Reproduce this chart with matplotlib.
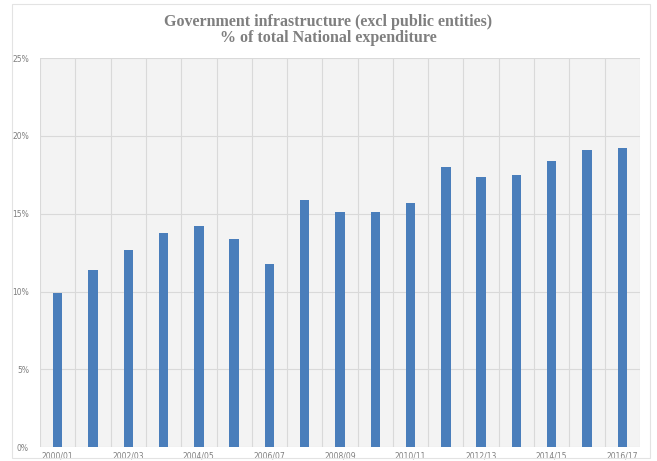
import matplotlib.pyplot as plt
from matplotlib.patches import Rectangle
from matplotlib.ticker import PercentFormatter

# Financial years and infrastructure share of national expenditure (%)
years = ['2000/01', '2001/02', '2002/03', '2003/04', '2004/05', '2005/06',
         '2006/07', '2007/08', '2008/09', '2009/10', '2010/11', '2011/12',
         '2012/13', '2013/14', '2014/15', '2015/16', '2016/17']
share = [9.9, 11.4, 12.7, 13.75, 14.2, 13.4, 11.75, 15.9, 15.1, 15.1,
         15.7, 18.0, 17.35, 17.5, 18.4, 19.1, 19.2]

BAR = '#4a7ebb'
GRID = '#d9d9d9'
TXT = '#7f7f7f'

fig = plt.figure(figsize=(6.57, 4.61), dpi=100)
ax = fig.add_axes([0.061, 0.030, 0.913, 0.844])

x = list(range(len(years)))
ax.bar(x, share, width=0.27, color=BAR, zorder=3)

ax.set_facecolor('#f3f3f3')
ax.set_xlim(-0.5, len(years) - 0.5)
ax.set_ylim(0, 25)
ax.set_yticks([0, 5, 10, 15, 20, 25])
ax.yaxis.set_major_formatter(PercentFormatter(decimals=0))

# labels on every other year, gridlines between the categories
ax.set_xticks(x[::2])
ax.set_xticklabels(years[::2])
for b in range(len(years) + 1):
    ax.axvline(b - 0.5, color=GRID, lw=0.8, zorder=1)
ax.yaxis.grid(True, color=GRID, lw=0.8, zorder=1)

ax.tick_params(axis='both', length=0, labelsize=5.5, colors=TXT)
ax.tick_params(axis='x', pad=3)
ax.tick_params(axis='y', pad=8)
for s in ax.spines.values():
    s.set_visible(False)

fig.text(0.5, 0.953, 'Government infrastructure (excl public entities)',
         ha='center', va='center', fontsize=11.5, fontweight='bold',
         family='Liberation Serif', color=TXT)
fig.text(0.5, 0.917, '% of total National expenditure',
         ha='center', va='center', fontsize=11.5, fontweight='bold',
         family='Liberation Serif', color=TXT)

# faint frame round the whole chart
fig.patches.append(Rectangle((0.018, 0.006), 0.971, 0.985, transform=fig.transFigure,
                             fill=False, ec='#e3e3e3', lw=0.8))

fig.savefig('out.png', dpi=100, facecolor='white')
